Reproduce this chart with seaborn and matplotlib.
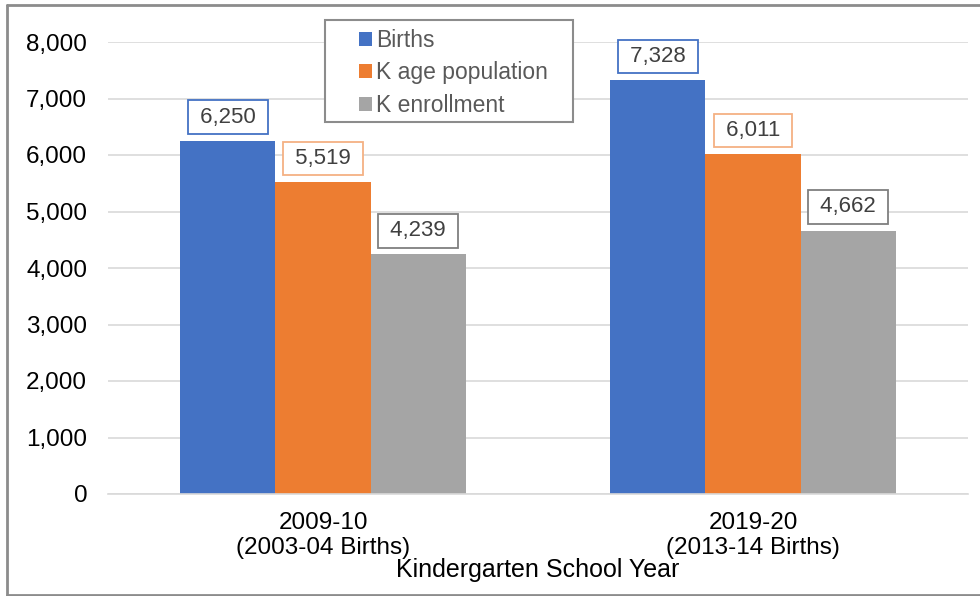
import matplotlib
matplotlib.use("Agg")
import matplotlib.pyplot as plt
from matplotlib.patches import Patch, Rectangle
from matplotlib.lines import Line2D
from matplotlib.ticker import FuncFormatter
import seaborn as sns
import pandas as pd

# Data
school_years = ["2009-10\n(2003-04 Births)", "2019-20\n(2013-14 Births)"]
series_names = ["Births", "K age population", "K enrollment"]
births = [6250, 7328]
k_age_population = [5519, 6011]
k_enrollment = [4239, 4662]
y_ticks = [0, 1000, 2000, 3000, 4000, 5000, 6000, 7000, 8000]

bar_colors = ["#4472C4", "#ED7D31", "#A5A5A5"]
label_edges = ["#4472C4", "#F4B183", "#7F7F7F"]

df = pd.DataFrame({
    "year": school_years * 3,
    "series": [s for s in series_names for _ in school_years],
    "value": births + k_age_population + k_enrollment,
})

sns.set_theme(style="white")
plt.rcParams["font.family"] = ["Liberation Sans", "DejaVu Sans"]

W, H = 980, 596
fig = plt.figure(figsize=(W / 100, H / 100), dpi=100)
ax = fig.add_axes([108 / W, 1 - 494 / H, 860 / W, (494 - 42) / H])

sns.barplot(data=df, x="year", y="value", hue="series", order=school_years,
            hue_order=series_names, palette=bar_colors, saturation=1,
            width=0.665, gap=0, linewidth=0, legend=False, ax=ax, zorder=2)

ax.set_xlim(-0.5, 1.5)
ax.set_ylim(0, 8000)
ax.set_yticks(y_ticks)
ax.yaxis.set_major_formatter(FuncFormatter(lambda v, _: f"{v:,.0f}"))
ax.grid(axis="y", color="#D9D9D9", linewidth=1.2, zorder=0)
ax.set_axisbelow(True)
for side in ["top", "right", "left"]:
    ax.spines[side].set_visible(False)
ax.spines["bottom"].set_color("#D9D9D9")
ax.spines["bottom"].set_linewidth(1.2)
ax.tick_params(axis="both", length=0, labelsize=17.5, colors="black")
ax.tick_params(axis="y", pad=15)
ax.tick_params(axis="x", pad=13)
ax.set_ylabel("")
ax.set_xlabel("Kindergarten School Year", fontsize=18, color="black", labelpad=-1)

# Boxed value labels above each bar
for container, edge in zip(ax.containers, label_edges):
    labels = [f" {v:,.0f} " for v in container.datavalues]
    ax.bar_label(container, labels=labels, padding=9.5, fontsize=16, color="#404040",
                 bbox=dict(boxstyle="square,pad=0.28", facecolor="white",
                           edgecolor=edge, linewidth=1.3))

# Legend with its own frame
fig.patches.append(Rectangle((325 / W, 1 - 122 / H), 248 / W, 102 / H,
                             transform=fig.transFigure, facecolor="white",
                             edgecolor="#8C8C8C", linewidth=1.5, zorder=3))
handles = [Patch(facecolor=c, edgecolor="none") for c in bar_colors]
leg = fig.legend(handles, series_names, loc="upper left",
                 bbox_to_anchor=(359 / W, 1 - 29 / H), frameon=False,
                 fontsize=16.5, labelcolor="#595959", borderpad=0, borderaxespad=0,
                 handlelength=0.55, handleheight=0.55, handletextpad=0.2,
                 labelspacing=0.41)
leg.set_zorder(4)

# Outer chart border
border = dict(color="#8C8C8C", linewidth=2, transform=fig.transFigure)
fig.add_artist(Line2D([7 / W, 1], [1 - 4.5 / H, 1 - 4.5 / H], **border))
fig.add_artist(Line2D([7 / W, 7 / W], [1 - 4.5 / H, 1 - 594.5 / H], **border))
fig.add_artist(Line2D([7 / W, 1], [1 - 594.5 / H, 1 - 594.5 / H], **border))

fig.savefig("out.png", dpi=100, facecolor="white")
